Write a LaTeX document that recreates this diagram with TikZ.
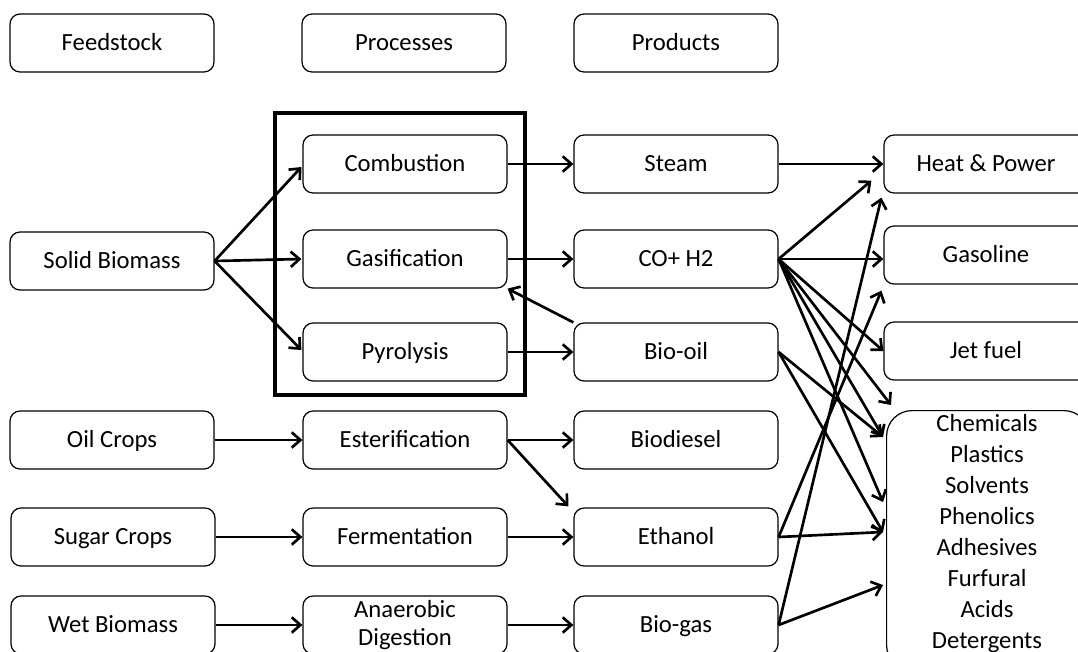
\documentclass[tikz,border=0pt]{standalone}
\usepackage{fontspec}
\setmainfont{Carlito}
\usetikzlibrary{arrows.meta,calc}
\begin{document}
\begin{tikzpicture}[x=0.75pt,y=-0.75pt,
  boxbase/.style={draw, line width=0.9pt, rounded corners=7.5pt, minimum width=153pt, minimum height=43.5pt,
    inner sep=2pt, align=center, font=\fontsize{18.5}{20}\selectfont},
  box/.style={boxbase, text height=14pt, text depth=2.5pt},
  bigbox/.style={draw, line width=0.9pt, rounded corners=19pt, minimum width=152pt, minimum height=195pt, inner sep=0pt},
  listtext/.style={align=center, inner sep=0pt, font=\fontsize{18.5}{23.25}\selectfont},
  arr/.style={line width=2pt, -{Straight Barb[length=6.5pt,width=11.5pt]}},
  frame/.style={line width=3pt}]
\useasboundingbox (0,0) rectangle (1078,651);
\fill[white] (0,0) rectangle (1078,651);
\clip (0,0) rectangle (1078,651);
% headers
\node[box] (feed) at (112,43) {Feedstock};
\node[box] (proc) at (404,43) {Processes};
\node[box] (prodh) at (676,43) {Products};
% feedstock
\node[box] (solid) at (112,261) {Solid Biomass};
\node[box] (oil) at (112,440) {Oil Crops};
\node[box] (sugar) at (113,537) {Sugar Crops};
\node[box] (wet) at (113,625) {Wet Biomass};
% processes
\node[box] (comb) at (405,164) {Combustion};
\node[box] (gas) at (405,259) {Gasification};
\node[box] (pyro) at (405,352) {Pyrolysis};
\node[box] (ester) at (405,440) {Esterification};
\node[box] (ferm) at (405,537) {Fermentation};
\node[boxbase, font=\fontsize{18.5}{21.5}\selectfont] (anae) at (405,625) {Anaerobic\\Digestion};
% products
\node[box] (steam) at (676,164) {Steam};
\node[box] (co) at (676,259) {CO+ H2};
\node[box] (biooil) at (676,352) {Bio-oil};
\node[box] (biod) at (676,440) {Biodiesel};
\node[box] (eth) at (676,537) {Ethanol};
\node[box] (biogas) at (676,625) {Bio-gas};
% end uses
\node[box] (heat) at (986,164) {Heat \& Power};
\node[box] (gasol) at (986,255) {Gasoline};
\node[box] (jet) at (986,351) {Jet fuel};
\node[bigbox, anchor=north west] (chem) at (886,410) {};
\node[listtext] (chemtext) at (987,534) {Chemicals\\Plastics\\Solvents\\Phenolics\\Adhesives\\Furfural\\Acids\\Detergents};
% thermochemical frame
\draw[frame] (275,113) rectangle (525,395);
% entry points
\coordinate (h1) at ($(heat.south west)+(-12,-13)$);
\coordinate (h2) at ($(heat.south west)+(-2,4)$);
\coordinate (g1) at ($(gasol.south west)+(-2,6)$);
\coordinate (c0) at ($(chem.north west)+(5,-5)$);
\coordinate (c1) at ($(chem.north west)+(-3,27)$);
\coordinate (c2) at ($(chem.north west)+(-3,92)$);
\coordinate (c3) at ($(chem.north west)+(-3,122)$);
\coordinate (c4) at ($(chem.north west)+(-3,175)$);
\coordinate (e1) at ($(eth.north west)+(-5,-1)$);
% feedstock -> processes
\draw[arr] (solid.east) -- ($(comb.west)+(-1,3)$);
\draw[arr] (solid.east) -- ($(gas.west)+(-1,0)$);
\draw[arr] (solid.east) -- ($(pyro.west)+(-1,-2)$);
\draw[arr] (oil.east) -- (ester.west);
\draw[arr] (sugar.east) -- (ferm.west);
\draw[arr] (wet.east) -- (anae.west);
% processes -> products
\draw[arr] (comb.east) -- (steam.west);
\draw[arr] (gas.east) -- (co.west);
\draw[arr] (pyro.east) -- (biooil.west);
\draw[arr] (biooil.north west) -- (gas.south east);
\draw[arr] (ester.east) -- (biod.west);
\draw[arr] (ester.east) -- (e1);
\draw[arr] (ferm.east) -- (eth.west);
\draw[arr] (anae.east) -- (biogas.west);
% products -> end uses
\draw[arr] (steam.east) -- (heat.west);
\draw[arr] (co.east) -- (h1);
\draw[arr] (co.east) -- (co.east -| gasol.west);
\draw[arr] (co.east) -- (jet.west);
\draw[arr] (co.east) -- (c0);
\draw[arr] (co.east) -- (c1);
\draw[arr] (co.east) -- (c2);
\draw[arr] (biooil.east) -- (c1);
\draw[arr] (biooil.east) -- (c3);
\draw[arr] (eth.east) -- (c3);
\draw[arr] (eth.east) -- (g1);
\draw[arr] (biogas.east) -- (h2);
\draw[arr] (biogas.east) -- (c4);
\end{tikzpicture}
\end{document}
